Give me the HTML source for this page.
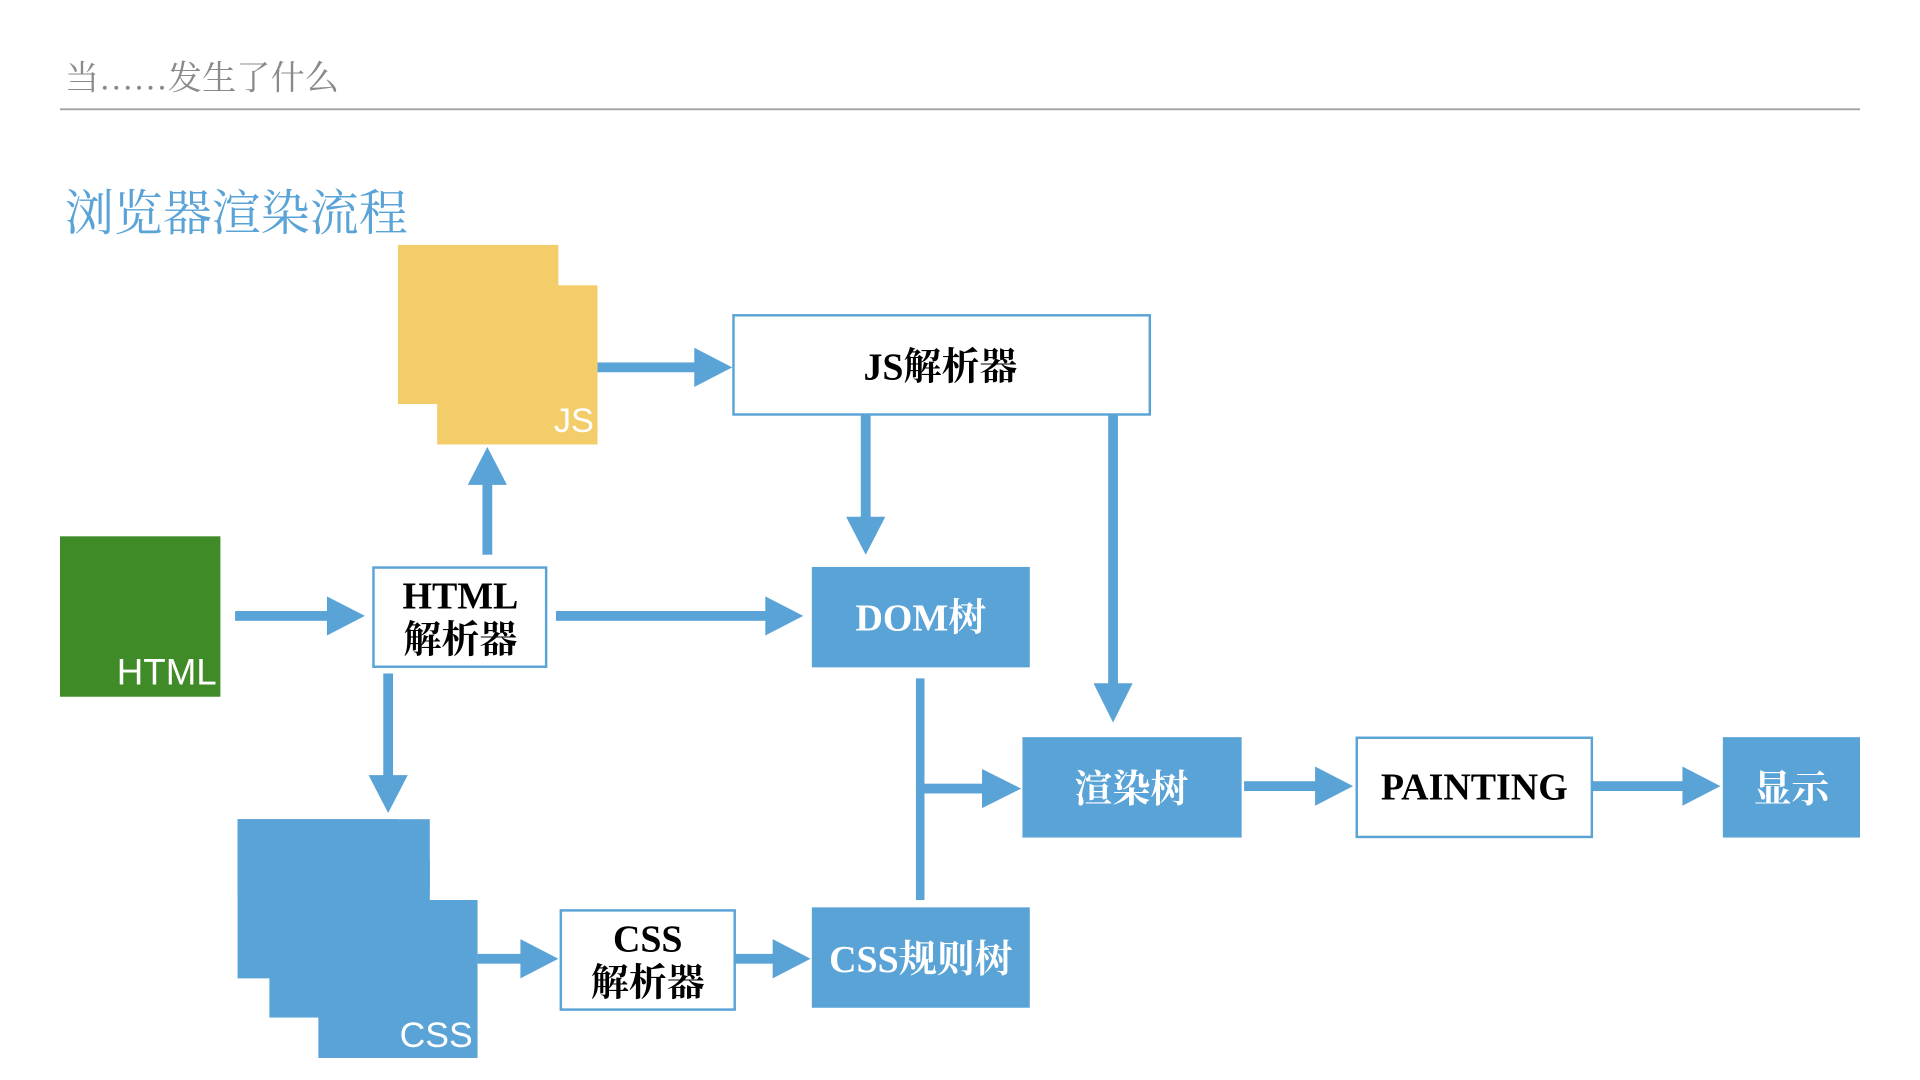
<!DOCTYPE html>
<html><head><meta charset="utf-8"><style>
html,body{margin:0;padding:0;background:#fff;width:1920px;height:1080px;overflow:hidden}
svg{display:block}
.t{font-family:"Liberation Serif","Noto Serif CJK SC",serif;font-weight:bold;font-size:31px;text-anchor:middle}
.s{font-family:"Liberation Sans","Noto Sans CJK SC",sans-serif}
</style></head><body>
<svg width="1920" height="1080" viewBox="0 0 1568 882" preserveAspectRatio="none" xmlns="http://www.w3.org/2000/svg">
<text x="53" y="73" font-family="Liberation Serif, Noto Serif CJK SC, serif" font-size="28" fill="#8a8a8a">当……发生了什么</text>
<rect x="49" y="88.5" width="1470" height="1.5" fill="#a0a0a0"/>
<text x="53" y="188" font-family="Liberation Serif, Noto Serif CJK SC, serif" font-size="40" fill="#5aa3d6">浏览器渲染流程</text>

<!-- JS doc -->
<rect x="325" y="200" width="131" height="130" fill="#f4cd6b"/>
<rect x="357" y="233" width="131" height="130" fill="#f4cd6b"/>
<text x="485" y="353" class="s" font-size="28" fill="#fff" text-anchor="end">JS</text>

<!-- HTML doc -->
<rect x="49" y="438" width="131" height="131" fill="#3f8b27"/>
<text x="177" y="559" class="s" font-size="30" fill="#fff" text-anchor="end">HTML</text>

<!-- CSS docs -->
<rect x="194" y="669" width="131" height="130" fill="#5aa3d6"/>
<rect x="220" y="701" width="131" height="130" fill="#5aa3d6"/>
<rect x="260" y="735" width="130" height="129" fill="#5aa3d6"/>
<rect x="194" y="669" width="157" height="62" fill="#5aa3d6"/>
<text x="386" y="855" class="s" font-size="29" fill="#fff" text-anchor="end">CSS</text>

<!-- boxes -->
<rect x="599" y="257.5" width="340" height="81" fill="#fff" stroke="#5aa3d6" stroke-width="2"/>
<text x="768" y="310" class="t">JS解析器</text>
<rect x="305" y="463.5" width="141" height="81" fill="#fff" stroke="#5aa3d6" stroke-width="2"/>
<text x="376" y="497" class="t">HTML</text>
<text x="376" y="533" class="t" font-weight="normal">解析器</text>
<rect x="663" y="463" width="178" height="82" fill="#5aa3d6"/>
<text x="752" y="515" class="t" fill="#fff">DOM树</text>
<rect x="835" y="602" width="179" height="82" fill="#5aa3d6"/>
<text x="924" y="655" class="t" fill="#fff" font-weight="normal">渲染树</text>
<rect x="1108" y="602.5" width="192" height="81" fill="#fff" stroke="#5aa3d6" stroke-width="2"/>
<text x="1204" y="653" class="t">PAINTING</text>
<rect x="1407" y="602" width="112" height="82" fill="#5aa3d6"/>
<text x="1463" y="655" class="t" fill="#fff" font-weight="normal">显示</text>
<rect x="458" y="743.5" width="142" height="81" fill="#fff" stroke="#5aa3d6" stroke-width="2"/>
<text x="529" y="777" class="t">CSS</text>
<text x="529" y="813" class="t" font-weight="normal">解析器</text>
<rect x="663" y="741" width="178" height="82" fill="#5aa3d6"/>
<text x="752" y="794" class="t" fill="#fff">CSS规则树</text>

<!-- arrows -->
<g fill="#5aa3d6" stroke="none">
<!-- JS -> JS parser -->
<rect x="488" y="296" width="82" height="8"/><polygon points="567,284 598,300 567,316"/>
<!-- JS parser -> DOM -->
<rect x="703" y="339" width="8" height="86"/><polygon points="691,422 707,453 723,422"/>
<!-- JS parser -> render tree -->
<rect x="905" y="339" width="8" height="222"/><polygon points="893,558 909,590 925,558"/>
<!-- HTML -> HTML parser -->
<rect x="192" y="499" width="78" height="8"/><polygon points="267,487 298,503 267,519"/>
<!-- HTML parser -> JS up -->
<rect x="394" y="393" width="8" height="60"/><polygon points="382,396 398,365 414,396"/>
<!-- HTML parser -> DOM -->
<rect x="454" y="499" width="174" height="8"/><polygon points="625,487 656,503 625,519"/>
<!-- HTML parser -> CSS down -->
<rect x="313" y="550" width="8" height="86"/><polygon points="301,633 317,664 333,633"/>
<!-- DOM/CSS rule vertical line -->
<rect x="748" y="554" width="7" height="181"/>
<rect x="755" y="640" width="50" height="8"/><polygon points="802,628 834,644 802,660"/>
<!-- render -> painting -->
<rect x="1016" y="638" width="61" height="8"/><polygon points="1074,626 1105,642 1074,658"/>
<!-- painting -> display -->
<rect x="1300" y="638" width="77" height="8"/><polygon points="1374,626 1405,642 1374,658"/>
<!-- CSS -> CSS parser -->
<rect x="390" y="779" width="38" height="8"/><polygon points="425,767 456,783 425,799"/>
<!-- CSS parser -> CSS rule -->
<rect x="600" y="779" width="34" height="8"/><polygon points="631,767 662,783 631,799"/>
</g>
</svg>
</body></html>
